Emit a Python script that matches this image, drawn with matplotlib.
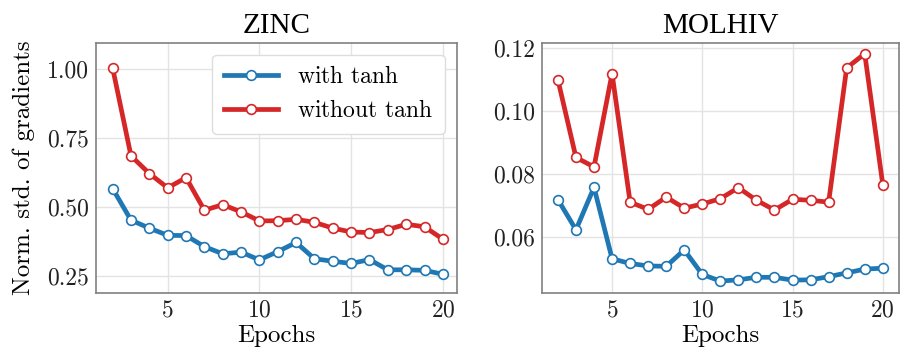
import matplotlib
matplotlib.use("Agg")
import matplotlib.pyplot as plt

# data
epochs = list(range(2, 21))
zinc_with = [0.566, 0.452, 0.423, 0.397, 0.396, 0.356, 0.330, 0.336, 0.308, 0.338,
             0.371, 0.312, 0.303, 0.295, 0.309, 0.272, 0.272, 0.270, 0.256]
zinc_without = [1.003, 0.685, 0.621, 0.569, 0.606, 0.488, 0.508, 0.482, 0.449, 0.450,
                0.455, 0.444, 0.423, 0.409, 0.407, 0.418, 0.437, 0.428, 0.383]
molhiv_with = [0.0718, 0.0622, 0.0757, 0.0530, 0.0515, 0.0507, 0.0506, 0.0558, 0.0480, 0.0459,
               0.0463, 0.0471, 0.0471, 0.0462, 0.0463, 0.0473, 0.0485, 0.0497, 0.0500]
molhiv_without = [0.1099, 0.0852, 0.0822, 0.1119, 0.0710, 0.0687, 0.0726, 0.0691, 0.0704, 0.0721,
                  0.0756, 0.0716, 0.0685, 0.0719, 0.0716, 0.0710, 0.1137, 0.1182, 0.0766]
zinc_yticks = [0.25, 0.50, 0.75, 1.00]
molhiv_yticks = [0.06, 0.08, 0.10, 0.12]

plt.rcParams['font.family'] = ['cmr10', 'DejaVu Serif']
plt.rcParams['mathtext.fontset'] = 'cm'
plt.rcParams['axes.formatter.use_mathtext'] = True

blue = '#1f77b4'
red = '#d62728'

fig = plt.figure(figsize=(9.01, 3.53), dpi=100)
ax1 = fig.add_axes([0.1065, 0.1708, 0.4007, 0.7082])
ax2 = fig.add_axes([0.6012, 0.1708, 0.3966, 0.7082])

def draw(ax, w, wo, title, yticks, fmt):
    ax.plot(epochs, w, color=blue, lw=3.4, marker='o', ms=7, mfc='white',
            mec=blue, mew=1.2, label=r'with $\tanh$')
    ax.plot(epochs, wo, color=red, lw=3.4, marker='o', ms=7, mfc='white',
            mec=red, mew=1.2, label=r'without $\tanh$')
    ax.set_title(title, fontsize=21, family='Liberation Serif', pad=7)
    ax.set_xlabel('Epochs', fontsize=18, labelpad=2)
    ax.set_xticks([5, 10, 15, 20])
    ax.set_yticks(yticks)
    ax.set_yticklabels([fmt % v for v in yticks])
    ax.tick_params(length=0, labelsize=17, pad=5, labelcolor='#222222')
    ax.grid(True, color='#e3e3e3', lw=1)
    ax.set_axisbelow(True)
    for s in ax.spines.values():
        s.set_color('#808080')
        s.set_linewidth(1.2)

draw(ax1, zinc_with, zinc_without, 'ZINC', zinc_yticks, '%.2f')
ax1.set_xlim(1.09, 20.77)
ax1.set_ylim(0.189, 1.095)
ax1.set_ylabel('Norm. std. of gradients', fontsize=18, labelpad=9)
leg = ax1.legend(loc='upper right', fontsize=17, handlelength=2.3, handletextpad=0.8,
                 borderpad=0.5, labelspacing=0.5, borderaxespad=0.5,
                 fancybox=True, framealpha=1, edgecolor='#dddddd')

draw(ax2, molhiv_with, molhiv_without, 'MOLHIV', molhiv_yticks, '%.2f')
ax2.set_xlim(1.1, 20.9)
ax2.set_ylim(0.0422, 0.1217)

fig.savefig('out.png', dpi=100)
